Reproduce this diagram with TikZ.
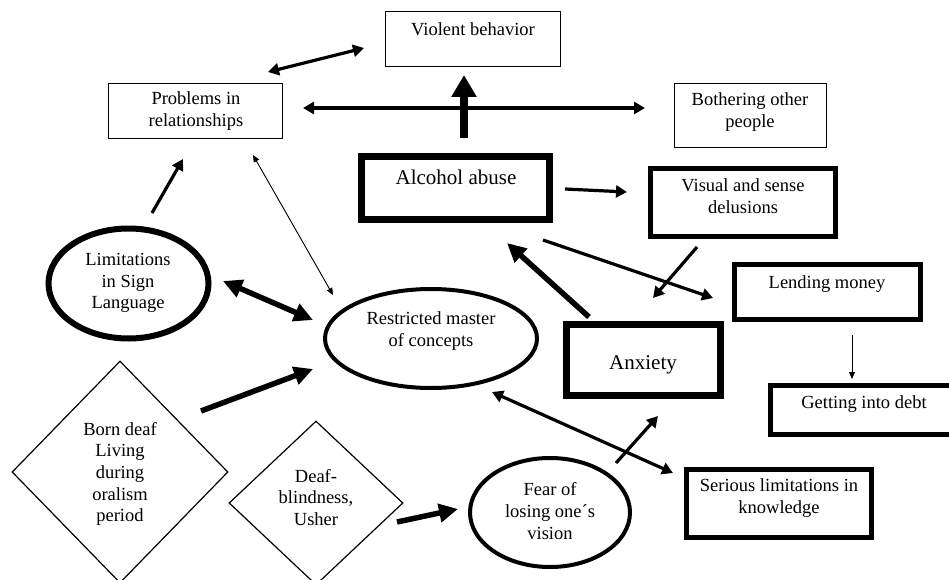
\documentclass[tikz,border=0pt]{standalone}
\usepackage{fontspec}
\setmainfont{Liberation Serif}
\usetikzlibrary{arrows.meta,shapes.geometric}

\begin{document}
\begin{tikzpicture}[x=1pt,y=-1pt,
  txt/.style={align=center,inner sep=0pt,font=\fontsize{18.5}{21.7}\selectfont},
  bigtxt/.style={align=center,inner sep=0pt,font=\fontsize{21}{24}\selectfont},
  thinbox/.style={draw,rectangle,line width=1.3pt,inner sep=0pt},
  thickbox/.style={draw,rectangle,line width=5pt,inner sep=0pt},
  heavybox/.style={draw,rectangle,line width=7pt,inner sep=0pt},
  oval/.style={draw,ellipse,inner sep=0pt},
  rhomb/.style={draw,diamond,line width=1.2pt,inner sep=0pt},
  thinarrow/.style={line width=0.9pt,-{Triangle[length=7pt,width=6pt]}},
  thinboth/.style={line width=0.9pt,{Triangle[length=7pt,width=6pt]}-{Triangle[length=7pt,width=6pt]}},
  medarrow/.style={line width=3.2pt,-{Triangle[length=11pt,width=12pt]}},
  medboth/.style={line width=3.2pt,{Triangle[length=11pt,width=12pt]}-{Triangle[length=11pt,width=12pt]}},
  thickarrow/.style={line width=5.5pt,-{Triangle[length=19pt,width=18pt]}},
  thickboth/.style={line width=5.5pt,{Triangle[length=19pt,width=18pt]}-{Triangle[length=19pt,width=18pt]}},
  bigarrow/.style={line width=8pt,-{Triangle[length=22pt,width=24pt]}}
]
\useasboundingbox (0,0) rectangle (949,580);

% ---- boxes ----
\node[thinbox,minimum width=175,minimum height=55] (violent) at (473,39) {};
\node[txt] (violent-t) at (473,29) {Violent behavior};

\node[thinbox,minimum width=174,minimum height=55] (problems) at (195.5,111) {};
\node[txt] (problems-t) at (196,111) {Problems in\\relationships};

\node[thinbox,minimum width=152,minimum height=64] (bother) at (750.5,115.5) {};
\node[txt] (bother-t) at (750,112) {Bothering other\\people};

\node[heavybox,minimum width=188,minimum height=63] (alcohol) at (455.5,188) {};
\node[bigtxt] (alcohol-t) at (456,177) {Alcohol abuse};

\node[thickbox,minimum width=185,minimum height=68] (visual) at (743,202.5) {};
\node[txt] (visual-t) at (743,196) {Visual and sense\\delusions};

\node[thickbox,minimum width=186,minimum height=55] (lending) at (827.5,292) {};
\node[txt] (lending-t) at (827,284) {Lending money};

% this box runs past the right edge of the page
\node[thickbox,minimum width=190,minimum height=49] (debt) at (865.5,410) {};
\node[txt] (debt-t) at (864,404) {Getting into debt};

\node[heavybox,minimum width=154,minimum height=71] (anxiety) at (643.5,360) {};
\node[bigtxt] (anxiety-t) at (643,365) {Anxiety};

\node[thickbox,minimum width=185,minimum height=68] (serious) at (779,503.5) {};
\node[txt] (serious-t) at (779,498) {Serious limitations in\\knowledge};

% ---- ellipses ----
\node[oval,line width=6pt,minimum width=160,minimum height=110] (signlang) at (128.5,283.5) {};
\node[txt] (signlang-t) at (128,283) {Limitations\\in Sign\\Language};

\node[oval,line width=4pt,minimum width=212,minimum height=99] (concepts) at (431,338.5) {};
\node[txt] (concepts-t) at (431,331) {Restricted master\\of concepts};

\node[oval,line width=4pt,minimum width=160,minimum height=109] (fear) at (550,512.5) {};
\node[txt] (fear-t) at (550,511) {Fear of\\losing one´s\\vision};

% ---- diamonds ----
\node[rhomb,minimum width=216,minimum height=222] (borndeaf) at (120,472) {};
\node[txt] (borndeaf-t) at (120,474) {Born deaf\\Living\\during\\oralism\\period};

\node[rhomb,minimum width=174,minimum height=164] (usher) at (316,503) {};
\node[txt] (usher-t) at (316,497.5) {Deaf-\\blindness,\\Usher};

% ---- connector end points ----
\coordinate (problems-a) at (268,72);
\coordinate (violent-a) at (364,48);
\coordinate (problems-b) at (303,108);
\coordinate (bother-b) at (645,108);
\coordinate (alcohol-c) at (464,138);
\coordinate (violent-c) at (464,75);
\coordinate (signlang-d) at (152,213);
\coordinate (problems-d) at (183,159);
\coordinate (problems-e) at (253,155);
\coordinate (concepts-e) at (333,295);
\coordinate (signlang-f) at (223,281);
\coordinate (concepts-f) at (313,320);
\coordinate (borndeaf-g) at (201,411);
\coordinate (concepts-g) at (313,369);
\coordinate (usher-h) at (397,522);
\coordinate (fear-h) at (458,509);
\coordinate (alcohol-i) at (565,189);
\coordinate (visual-i) at (627,192);
\coordinate (visual-j) at (697,247);
\coordinate (anxiety-j) at (653,298);
\coordinate (alcohol-k) at (543,240);
\coordinate (lending-k) at (713,298);
\coordinate (anxiety-l) at (589,317);
\coordinate (alcohol-l) at (507,243);
\coordinate (lending-m) at (852,335);
\coordinate (debt-m) at (852,379);
\coordinate (concepts-n) at (492,392);
\coordinate (serious-n) at (673,473);
\coordinate (fear-o) at (616,463);
\coordinate (anxiety-o) at (658,416);

% ---- connectors ----
\draw[medboth] (problems-a) -- (violent-a);
\draw[medboth] (problems-b) -- (bother-b);
\draw[bigarrow] (alcohol-c) -- (violent-c);
\draw[medarrow] (signlang-d) -- (problems-d);
\draw[thinboth] (problems-e) -- (concepts-e);
\draw[thickboth] (signlang-f) -- (concepts-f);
\draw[thickarrow] (borndeaf-g) -- (concepts-g);
\draw[thickarrow] (usher-h) -- (fear-h);
\draw[medarrow] (alcohol-i) -- (visual-i);
\draw[medarrow] (visual-j) -- (anxiety-j);
\draw[medarrow] (alcohol-k) -- (lending-k);
\draw[thickarrow] (anxiety-l) -- (alcohol-l);
\draw[thinarrow] (lending-m) -- (debt-m);
\draw[medboth] (concepts-n) -- (serious-n);
\draw[medarrow] (fear-o) -- (anxiety-o);
\end{tikzpicture}
\end{document}
